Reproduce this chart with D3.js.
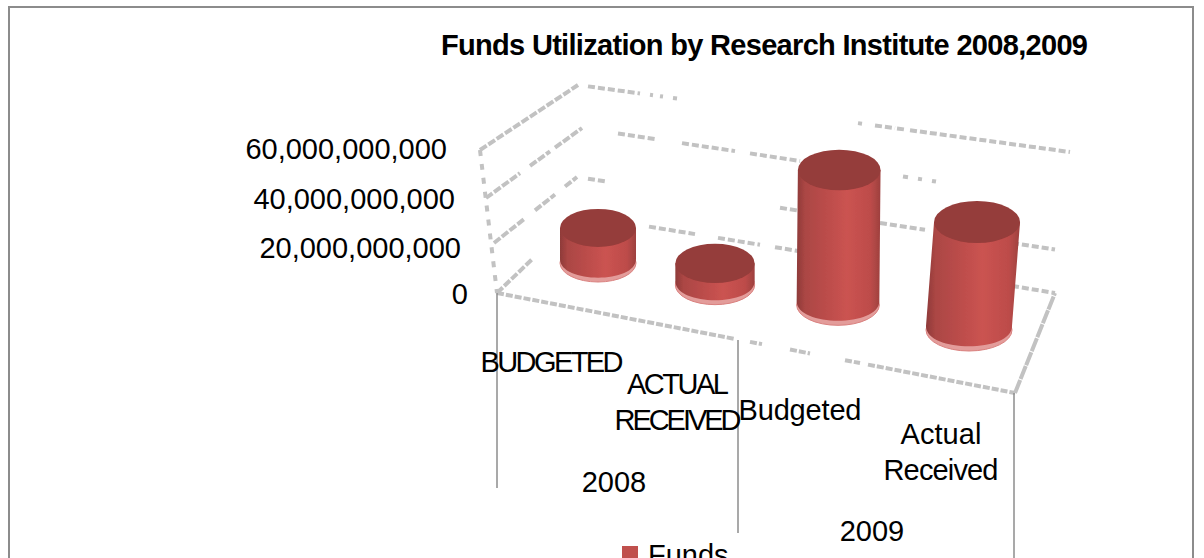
<!DOCTYPE html>
<html>
<head>
<meta charset="utf-8">
<script src="https://cdn.jsdelivr.net/npm/d3@7"></script>
<style>
  html, body { margin: 0; padding: 0; background: #fff; overflow: hidden; }
  text { font-family: "Liberation Sans", Arial, sans-serif; fill: #000; }
</style>
</head>
<body>
<div id="chart"></div>
<script>
// values
const categories = ['BUDGETED', 'ACTUAL RECEIVED', 'Budgeted', 'Actual Received'];
const years = ['2008', '2009'];
const funds = [13e9, 8e9, 50e9, 40e9];
const tickValues = [0, 20e9, 40e9, 60e9];
const seriesName = 'Funds';
const title = 'Funds Utilization by Research Institute 2008,2009';

const width = 1204, height = 558;
const svg = d3.select('#chart').append('svg').attr('width', width).attr('height', height);
const defs = svg.append('defs');
defs.append('filter').attr('id', 'soft').append('feGaussianBlur').attr('stdDeviation', 0.6);

svg.append('rect').attr('x', 9).attr('y', 7).attr('width', 1184).attr('height', 600)
  .attr('fill', '#fff').attr('stroke', '#8c8c8c').attr('stroke-width', 2);

svg.append('text').attr('x', 441).attr('y', 55)
  .attr('font-size', 29).attr('font-weight', 'bold')
  .attr('textLength', 647).attr('lengthAdjust', 'spacing')
  .text(title);

// the "3d" box: value -> position on the three edges that hold the gridlines
const wallX = d3.scaleLinear().domain(tickValues).range([497, 494, 486, 480]);
const wallY = d3.scaleLinear().domain(tickValues).range([293, 243, 198, 150]);
const cornerX = d3.scaleLinear().domain(tickValues).range([578, 577, 582, 578]);
const cornerY = d3.scaleLinear().domain(tickValues).range([215, 177, 128, 85]);
const endX = d3.scaleLinear().domain(tickValues).range([1055, 1058, 1065, 1070]);
const endY = d3.scaleLinear().domain(tickValues).range([293, 250, 201, 152]);

const labelX = d3.scaleLinear().domain(tickValues).range([468, 461, 455, 447]);
const labelY = d3.scaleLinear().domain(tickValues).range([304, 258, 209, 159]);

// the dashes drop out in places in the original, so only these x spans get drawn
const wallSpans = [
  [[497, 533]],
  [[494, 525], [535, 555], [565, 577]],
  [[486, 520], [530, 550], [555, 582]],
  [[480, 578]]
];
const backSpans = [
  [[649, 695], [718, 760], [775, 800], [1012, 1055]],
  [[588, 605], [780, 805], [880, 925], [1012, 1055]],
  [[618, 655], [682, 735], [750, 800], [903, 908], [918, 922], [932, 936]],
  [[588, 640], [650, 653], [660, 663], [673, 677], [858, 862], [875, 895], [897, 905], [910, 1070]]
];
const frontSpans = [[497, 735], [750, 762], [790, 810], [845, 860], [868, 1015]];

const grid = svg.append('g').attr('fill', 'none').attr('stroke', '#c2c2c2')
  .attr('stroke-width', 4).attr('filter', 'url(#soft)');
const line = d3.line();

function drawSpans(x0, y0, x1, y1, spans, dash) {
  const y = d3.scaleLinear().domain([x0, x1]).range([y0, y1]);
  spans.forEach(s => {
    grid.append('path')
      .attr('d', line([[s[0], y(s[0])], [s[1], y(s[1])]]))
      .attr('stroke-dasharray', dash);
  });
}

tickValues.forEach((v, i) => {
  drawSpans(wallX(v), wallY(v), cornerX(v), cornerY(v), wallSpans[i], '8 2');
  drawSpans(cornerX(v), cornerY(v), endX(v), endY(v), backSpans[i], '7 3');
});
drawSpans(497, 293, 1015, 393, frontSpans, '7 2');
grid.append('path').attr('d', line([[480, 150], [497, 293]])).attr('stroke-dasharray', '6 8');
grid.append('path').attr('d', line([[1015, 393], [1055, 293]])).attr('stroke-dasharray', '14 1');

svg.append('g').selectAll('text').data(tickValues).join('text')
  .attr('x', d => labelX(d)).attr('y', d => labelY(d))
  .attr('text-anchor', 'end').attr('font-size', 29)
  .text(d => d3.format(',')(d));

// separators under the floor
const sepX = [497, 738, 1014];
const sepTop = [293, 340, 393];
const sepBottom = [488, 533, 558];
svg.append('g').selectAll('line').data(sepX).join('line')
  .attr('x1', d => d).attr('x2', d => d)
  .attr('y1', (d, i) => sepTop[i]).attr('y2', (d, i) => sepBottom[i])
  .attr('stroke', '#8c8c8c').attr('stroke-width', 1.5);

// cylinders
const baseX = d3.scaleLinear().domain([0, 1, 2, 3]).range([598, 715, 838, 969]);
const baseY = d3.scaleLinear().domain([0, 1, 2, 3]).range([263, 285, 305, 330]);
const rx = d3.scaleLinear().domain([0, 3]).range([38, 43]);
const ry = d3.scaleLinear().domain([0, 3]).range([19, 21]);
const barH = d3.scaleLinear().domain([0, 60e9]).range([0, 162]);

const grad = defs.append('linearGradient').attr('id', 'body');
[[0, '#8e3b39'], [0.1, '#ab4644'], [0.6, '#cb5351'], [0.88, '#bd4c4a'], [1, '#9d403e']].forEach(s => {
  grad.append('stop').attr('offset', s[0]).attr('stop-color', s[1]);
});

const bars = svg.append('g').attr('filter', 'url(#soft)').selectAll('g').data(funds).join('g');

bars.each(function (d, i) {
  const g = d3.select(this);
  const x = baseX(i), y = baseY(i), r = rx(i), s = ry(i), h = barH(d);
  const lean = h * Math.max(0, x - 820) * 0.0005;
  const topX = x + lean, topY = y - h;

  // pale rim at the foot of the bar
  g.append('ellipse').attr('cx', x).attr('cy', y).attr('rx', r).attr('ry', s)
    .attr('fill', '#e39c9a').attr('stroke', '#d9807e').attr('stroke-width', 1);

  const p = d3.path();
  p.moveTo(topX - r, topY);
  p.lineTo(x - r, y - 4);
  p.bezierCurveTo(x - r, y + s * 1.1, x + r, y + s * 1.1, x + r, y - 4);
  p.lineTo(topX + r, topY);
  p.closePath();
  g.append('path').attr('d', p.toString()).attr('fill', 'url(#body)');

  g.append('ellipse').attr('cx', topX).attr('cy', topY).attr('rx', r).attr('ry', s)
    .attr('fill', '#953c3a');
});

// category labels, the long ones wrap on two lines
const catX = [552, 678, 800, 941];
const catY = [372, 394, 420, 444];
const catW = [[143], [102, 127], [123], [81, 115]];
const catGap = 36;
categories.forEach((c, i) => {
  const words = c.split(' ');
  words.forEach((w, j) => {
    svg.append('text')
      .attr('x', catX[i]).attr('y', catY[i] + j * catGap)
      .attr('text-anchor', 'middle').attr('font-size', 29)
      .attr('textLength', catW[i][j]).attr('lengthAdjust', 'spacing')
      .text(w);
  });
});

const yearX = [614, 872], yearY = [492, 541];
svg.append('g').selectAll('text').data(years).join('text')
  .attr('x', (d, i) => yearX[i]).attr('y', (d, i) => yearY[i])
  .attr('text-anchor', 'middle').attr('font-size', 29).text(d => d);

// legend, runs off the bottom of the picture like the original
svg.append('rect').attr('x', 622).attr('y', 546).attr('width', 16).attr('height', 16).attr('fill', '#c0504d');
svg.append('text').attr('x', 648).attr('y', 565).attr('font-size', 29).text(seriesName);
</script>
</body>
</html>
